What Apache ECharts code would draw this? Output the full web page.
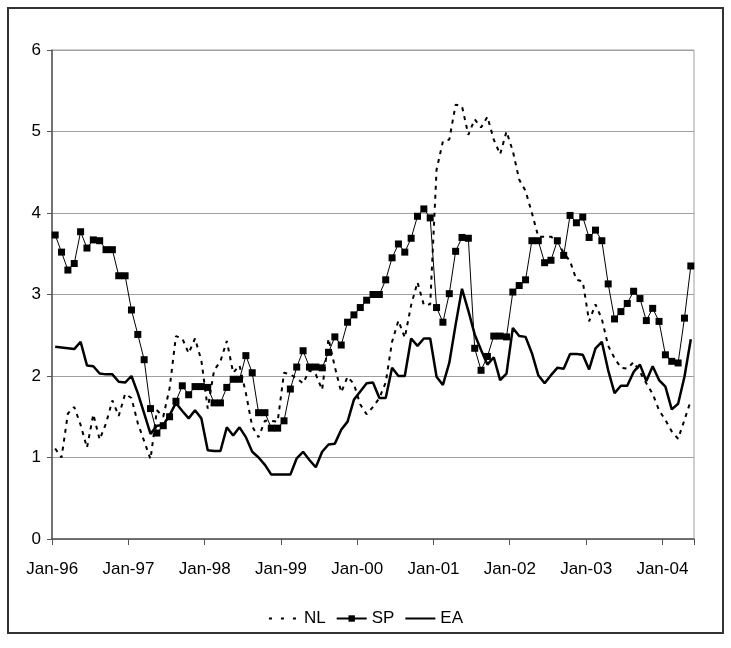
<!DOCTYPE html>
<html>
<head>
<meta charset="utf-8">
<script src="https://cdn.jsdelivr.net/npm/echarts@6/dist/echarts.min.js"></script>
<style>
html,body{margin:0;padding:0;background:#fff;}
#chart{width:731px;height:648px;}
</style>
</head>
<body>
<div id="chart"></div>
<script>
// Categories: monthly, Jan-96 .. May-04
var monthNames = ['Jan','Feb','Mar','Apr','May','Jun','Jul','Aug','Sep','Oct','Nov','Dec'];
var years = ['96','97','98','99','00','01','02','03','04'];
var categories = [];
years.forEach(function (y) { monthNames.forEach(function (m) { categories.push(m + '-' + y); }); });
categories = categories.slice(0, 101);

var yTicks = [0, 1, 2, 3, 4, 5, 6];

var NL = [
  1.11, 1.00, 1.54, 1.62, 1.40, 1.12, 1.53, 1.22, 1.42, 1.70, 1.51, 1.78,
  1.73, 1.42, 1.20, 0.98, 1.58, 1.50, 1.85, 2.49, 2.46, 2.28, 2.46, 2.19,
  1.60, 2.07, 2.18, 2.43, 2.04, 2.13, 1.79, 1.38, 1.25, 1.45, 1.45, 1.44,
  2.04, 2.02, 1.97, 1.91, 2.07, 2.02, 1.83, 2.46, 2.11, 1.80, 1.99, 1.90,
  1.65, 1.53, 1.62, 1.73, 1.92, 2.42, 2.68, 2.47, 2.87, 3.15, 2.87, 2.88,
  4.53, 4.88, 4.90, 5.33, 5.31, 4.96, 5.15, 5.05, 5.18, 4.90, 4.72, 5.00,
  4.76, 4.41, 4.27, 4.00, 3.71, 3.71, 3.71, 3.65, 3.51, 3.41, 3.18, 3.16,
  2.67, 2.88, 2.70, 2.37, 2.22, 2.10, 2.09, 2.17, 2.05, 1.91, 1.78, 1.58,
  1.46, 1.32, 1.23, 1.46, 1.70
];

var SP = [
  3.73, 3.52, 3.30, 3.38, 3.77, 3.57, 3.67, 3.66, 3.55, 3.55, 3.23, 3.23,
  2.81, 2.51, 2.20, 1.60, 1.30, 1.39, 1.50, 1.69, 1.88, 1.77, 1.87, 1.87,
  1.86, 1.67, 1.67, 1.86, 1.96, 1.96, 2.25, 2.04, 1.55, 1.55, 1.36, 1.36,
  1.45, 1.84, 2.11, 2.31, 2.11, 2.11, 2.10, 2.29, 2.48, 2.38, 2.66, 2.75,
  2.84, 2.93, 3.00, 3.00, 3.18, 3.45, 3.62, 3.52, 3.69, 3.96, 4.05, 3.94,
  2.84, 2.66, 3.01, 3.53, 3.70, 3.69, 2.34, 2.07, 2.24, 2.49, 2.49, 2.48,
  3.03, 3.11, 3.18, 3.66, 3.66, 3.39, 3.42, 3.66, 3.48, 3.97, 3.88, 3.95,
  3.70, 3.79, 3.66, 3.13, 2.70, 2.79, 2.89, 3.04, 2.95, 2.68, 2.83, 2.67,
  2.26, 2.18, 2.16, 2.71, 3.35
];

var EA = [
  2.36, 2.35, 2.34, 2.33, 2.42, 2.13, 2.12, 2.03, 2.02, 2.02, 1.93, 1.92,
  2.00, 1.79, 1.54, 1.29, 1.39, 1.40, 1.52, 1.67, 1.57, 1.48, 1.58, 1.48,
  1.09, 1.08, 1.08, 1.37, 1.27, 1.37, 1.25, 1.07, 1.00, 0.91, 0.79, 0.79,
  0.79, 0.79, 0.99, 1.07, 0.97, 0.88, 1.07, 1.16, 1.17, 1.34, 1.44, 1.71,
  1.81, 1.91, 1.92, 1.73, 1.73, 2.10, 2.00, 2.00, 2.46, 2.37, 2.46, 2.46,
  1.99, 1.89, 2.16, 2.63, 3.07, 2.80, 2.51, 2.32, 2.14, 2.23, 1.95, 2.03,
  2.59, 2.49, 2.48, 2.28, 2.01, 1.91, 2.01, 2.10, 2.09, 2.27, 2.27, 2.26,
  2.08, 2.34, 2.42, 2.07, 1.79, 1.88, 1.88, 2.05, 2.14, 1.94, 2.12, 1.95,
  1.87, 1.59, 1.66, 1.99, 2.45
];

var FONT = "'Liberation Sans Narrow', 'Arial Narrow', 'Liberation Sans', Arial, sans-serif";

var chart = echarts.init(document.getElementById('chart'), null, {renderer: 'canvas'});
chart.setOption({
  animation: false,
  backgroundColor: '#fff',
  textStyle: {fontFamily: FONT},
  graphic: [{
    type: 'rect', silent: true, z: -10,
    shape: {x: 8, y: 8, width: 715, height: 625},
    style: {fill: 'none', stroke: '#333', lineWidth: 2}
  }],
  grid: {
    left: 52, top: 50, right: 37, bottom: 109,
    show: true, borderColor: '#a0a0a0', borderWidth: 1, backgroundColor: 'transparent'
  },
  legend: {
    top: 605, left: 'center',
    itemWidth: 30, itemHeight: 8, itemGap: 10,
    textStyle: {fontFamily: FONT, fontSize: 17, color: '#000'},
    data: [
      {name: 'NL', itemStyle: {opacity: 0}, lineStyle: {type: [3, 9], width: 2}},
      {name: 'SP'},
      {name: 'EA', itemStyle: {opacity: 0}}
    ]
  },
  xAxis: {
    type: 'category',
    data: categories,
    boundaryGap: true,
    axisLine: {lineStyle: {color: '#555', width: 1.5}},
    axisTick: {show: true, interval: 11, length: 6, lineStyle: {color: '#555'}},
    axisLabel: {interval: 11, fontFamily: FONT, fontSize: 17, color: '#000', margin: 22, padding: [0, 6, 0, 0]},
    splitLine: {show: false}
  },
  yAxis: {
    type: 'value',
    min: yTicks[0], max: yTicks[yTicks.length - 1], interval: 1,
    axisLine: {show: true, lineStyle: {color: '#555', width: 1.5}},
    axisTick: {show: true, length: 5, lineStyle: {color: '#555'}},
    axisLabel: {fontFamily: FONT, fontSize: 17, color: '#000', margin: 11},
    splitLine: {show: true, lineStyle: {color: '#a0a0a0', width: 1}}
  },
  series: [
    {
      name: 'NL', type: 'line', data: NL,
      symbol: 'none',
      lineStyle: {color: '#000', width: 2, type: [4, 5]},
      itemStyle: {color: '#000'}
    },
    {
      name: 'SP', type: 'line', data: SP,
      symbol: 'rect', symbolSize: 7, showAllSymbol: true,
      lineStyle: {color: '#000', width: 1},
      itemStyle: {color: '#000', borderWidth: 0}
    },
    {
      name: 'EA', type: 'line', data: EA,
      symbol: 'none',
      lineStyle: {color: '#000', width: 2.5},
      itemStyle: {color: '#000'}
    }
  ]
});
</script>
</body>
</html>
